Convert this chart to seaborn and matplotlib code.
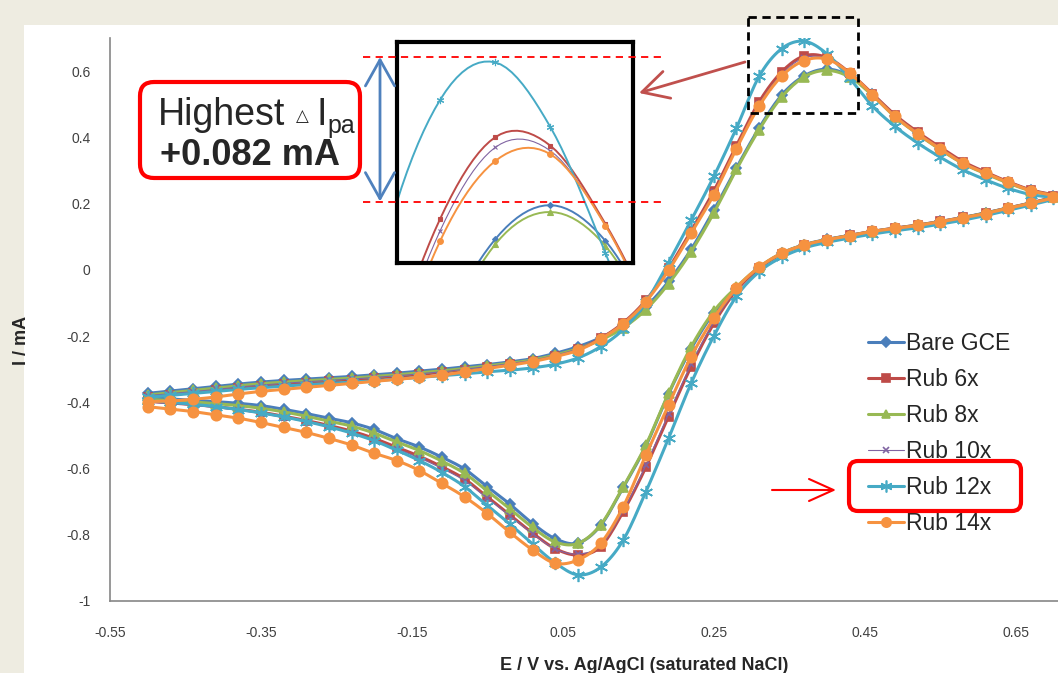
import numpy as np
import matplotlib
matplotlib.use("Agg")
import matplotlib.pyplot as plt
import seaborn as sns
from matplotlib.lines import Line2D
from matplotlib.patches import Rectangle, FancyBboxPatch, FancyArrowPatch

sns.set_style("white")
plt.rcParams['font.family'] = ['Liberation Sans', 'DejaVu Sans']

# potential steps (V): forward scan, then reverse scan
e_fwd = [-0.50, -0.47, -0.44, -0.41, -0.38, -0.35, -0.32, -0.29, -0.26, -0.23,
         -0.20, -0.17, -0.14, -0.11, -0.08, -0.05, -0.02, 0.01, 0.04, 0.07,
         0.10, 0.13, 0.16, 0.19, 0.22, 0.25, 0.28, 0.31, 0.34, 0.37,
         0.40, 0.43, 0.46, 0.49, 0.52, 0.55, 0.58, 0.61, 0.64, 0.67, 0.70]
e_rev = [0.67, 0.64, 0.61, 0.58, 0.55, 0.52, 0.49, 0.46, 0.43, 0.40,
         0.37, 0.34, 0.31, 0.28, 0.25, 0.22, 0.19, 0.16, 0.13, 0.10,
         0.07, 0.04, 0.01, -0.02, -0.05, -0.08, -0.11, -0.14, -0.17, -0.20,
         -0.23, -0.26, -0.29, -0.32, -0.35, -0.38, -0.41, -0.44, -0.47, -0.50]

# current (mA)
bare_fwd = [-0.373, -0.366, -0.359, -0.352, -0.345, -0.339, -0.334, -0.330, -0.326, -0.322,
            -0.317, -0.312, -0.306, -0.300, -0.293, -0.286, -0.278, -0.268, -0.252, -0.232,
            -0.205, -0.168, -0.112, -0.035, 0.062, 0.180, 0.308, 0.428, 0.528, 0.586,
            0.606, 0.585, 0.530, 0.465, 0.412, 0.365, 0.323, 0.292, 0.264, 0.240, 0.222]
bare_rev = [0.202, 0.187, 0.172, 0.158, 0.146, 0.135, 0.126, 0.116, 0.104, 0.092,
            0.076, 0.050, 0.006, -0.058, -0.130, -0.238, -0.375, -0.532, -0.657, -0.772,
            -0.825, -0.812, -0.766, -0.708, -0.655, -0.602, -0.566, -0.535, -0.510, -0.482,
            -0.462, -0.448, -0.434, -0.421, -0.410, -0.403, -0.398, -0.394, -0.390, -0.386]

rub6_fwd = [-0.383, -0.377, -0.371, -0.364, -0.357, -0.351, -0.346, -0.341, -0.336, -0.332,
            -0.327, -0.322, -0.316, -0.309, -0.301, -0.293, -0.284, -0.274, -0.259, -0.240,
            -0.207, -0.160, -0.092, 0.004, 0.118, 0.238, 0.375, 0.507, 0.598, 0.646,
            0.641, 0.595, 0.532, 0.468, 0.416, 0.370, 0.327, 0.295, 0.266, 0.241, 0.223]
rub6_rev = [0.202, 0.187, 0.171, 0.158, 0.146, 0.135, 0.126, 0.116, 0.104, 0.091,
            0.075, 0.048, 0.004, -0.062, -0.162, -0.292, -0.443, -0.596, -0.730, -0.836,
            -0.861, -0.842, -0.795, -0.740, -0.686, -0.632, -0.595, -0.563, -0.536, -0.509,
            -0.487, -0.470, -0.455, -0.442, -0.430, -0.421, -0.413, -0.407, -0.402, -0.397]

rub8_fwd = [-0.378, -0.371, -0.364, -0.357, -0.350, -0.344, -0.339, -0.335, -0.331, -0.327,
            -0.322, -0.317, -0.311, -0.305, -0.298, -0.290, -0.282, -0.272, -0.257, -0.238,
            -0.212, -0.175, -0.120, -0.042, 0.055, 0.172, 0.303, 0.423, 0.522, 0.583,
            0.602, 0.582, 0.527, 0.462, 0.410, 0.363, 0.321, 0.290, 0.262, 0.238, 0.221]
rub8_rev = [0.201, 0.186, 0.171, 0.157, 0.145, 0.134, 0.125, 0.115, 0.103, 0.091,
            0.075, 0.050, 0.008, -0.052, -0.125, -0.232, -0.373, -0.529, -0.655, -0.770,
            -0.826, -0.822, -0.778, -0.722, -0.668, -0.615, -0.578, -0.546, -0.520, -0.493,
            -0.472, -0.457, -0.442, -0.429, -0.418, -0.410, -0.404, -0.399, -0.395, -0.391]

rub10_fwd = [-0.380, -0.374, -0.368, -0.361, -0.354, -0.348, -0.343, -0.338, -0.334, -0.330,
             -0.325, -0.320, -0.314, -0.308, -0.300, -0.292, -0.283, -0.273, -0.258, -0.238,
             -0.206, -0.160, -0.093, 0.002, 0.115, 0.234, 0.371, 0.500, 0.591, 0.640,
             0.638, 0.594, 0.531, 0.467, 0.414, 0.368, 0.325, 0.294, 0.265, 0.240, 0.222]
rub10_rev = [0.201, 0.186, 0.171, 0.157, 0.145, 0.134, 0.125, 0.115, 0.103, 0.090,
             0.074, 0.048, 0.005, -0.060, -0.158, -0.285, -0.435, -0.590, -0.727, -0.832,
             -0.858, -0.843, -0.797, -0.743, -0.690, -0.637, -0.600, -0.568, -0.541, -0.514,
             -0.492, -0.474, -0.459, -0.446, -0.434, -0.424, -0.416, -0.409, -0.404, -0.399]

rub12_fwd = [-0.385, -0.379, -0.373, -0.367, -0.361, -0.356, -0.351, -0.347, -0.343, -0.339,
             -0.335, -0.330, -0.325, -0.320, -0.314, -0.308, -0.303, -0.296, -0.285, -0.266,
             -0.232, -0.180, -0.098, 0.022, 0.150, 0.282, 0.428, 0.584, 0.668, 0.690,
             0.652, 0.578, 0.495, 0.433, 0.383, 0.340, 0.302, 0.272, 0.246, 0.227, 0.216]
rub12_rev = [0.196, 0.180, 0.164, 0.150, 0.138, 0.127, 0.118, 0.108, 0.096, 0.083,
             0.066, 0.038, -0.006, -0.080, -0.200, -0.342, -0.509, -0.670, -0.816, -0.898,
             -0.921, -0.885, -0.828, -0.768, -0.712, -0.655, -0.612, -0.576, -0.545, -0.516,
             -0.493, -0.474, -0.458, -0.444, -0.432, -0.422, -0.413, -0.406, -0.400, -0.395]

rub14_fwd = [-0.398, -0.396, -0.391, -0.384, -0.375, -0.367, -0.361, -0.355, -0.349, -0.343,
             -0.337, -0.331, -0.325, -0.318, -0.308, -0.298, -0.288, -0.277, -0.262, -0.243,
             -0.209, -0.163, -0.096, -0.002, 0.111, 0.227, 0.366, 0.494, 0.585, 0.632,
             0.636, 0.594, 0.529, 0.463, 0.411, 0.365, 0.322, 0.292, 0.264, 0.239, 0.221]
rub14_rev = [0.201, 0.186, 0.170, 0.157, 0.145, 0.134, 0.125, 0.116, 0.103, 0.091,
             0.075, 0.050, 0.008, -0.055, -0.146, -0.262, -0.408, -0.559, -0.715, -0.826,
             -0.876, -0.886, -0.846, -0.793, -0.736, -0.686, -0.645, -0.606, -0.576, -0.554,
             -0.529, -0.509, -0.491, -0.476, -0.461, -0.448, -0.438, -0.428, -0.421, -0.413]

labels = ['Bare GCE', 'Rub 6x', 'Rub 8x', 'Rub 10x', 'Rub 12x', 'Rub 14x']
fwd_data = [bare_fwd, rub6_fwd, rub8_fwd, rub10_fwd, rub12_fwd, rub14_fwd]
rev_data = [bare_rev, rub6_rev, rub8_rev, rub10_rev, rub12_rev, rub14_rev]
colors = ['#4A7EBB', '#BE4B48', '#98B954', '#8064A2', '#46AAC5', '#F69240']
markers = ['D', 's', '^', 'x', (6, 2, 0), 'o']
msizes = [5.5, 6, 7, 5, 9.5, 7.5]
lwidths = [2.2, 2.2, 2.2, 0.8, 2.2, 2.2]

xticks = [-0.55, -0.35, -0.15, 0.05, 0.25, 0.45, 0.65]
yticks = [-1, -0.8, -0.6, -0.4, -0.2, 0, 0.2, 0.4, 0.6]
ytick_labels = ['-1', '-0.8', '-0.6', '-0.4', '-0.2', '0', '0.2', '0.4', '0.6']


def smooth(x, y, n=10):
    # excel-like smoothed line through the points (catmull-rom)
    pts = np.column_stack([x, y])
    p = np.vstack([pts[0], pts, pts[-1]])
    t = np.linspace(0, 1, n, endpoint=False)[:, None]
    out = []
    for i in range(1, len(p) - 2):
        p0, p1, p2, p3 = p[i - 1], p[i], p[i + 1], p[i + 2]
        out.append(0.5 * (2 * p1 + (-p0 + p2) * t + (2 * p0 - 5 * p1 + 4 * p2 - p3) * t ** 2
                          + (-p0 + 3 * p1 - 3 * p2 + p3) * t ** 3))
    out.append(pts[-1:])
    s = np.vstack(out)
    return s[:, 0], s[:, 1]


W, H = 1058, 673
fig = plt.figure(figsize=(W / 100, H / 100), dpi=100, facecolor='#EEECE1')
fig.patches.append(Rectangle((24 / W, 0), 1 - 24 / W, 1 - 25 / H, transform=fig.transFigure,
                             facecolor='white', edgecolor='none', zorder=-5))

ax = fig.add_axes([110 / W, 72 / H, 948 / W, 563 / H])
ins = fig.add_axes([397 / W, 1 - 263 / H, 236 / W, 221 / H])

for i in range(6):
    E = np.array(e_fwd + e_rev)
    I = np.array(fwd_data[i] + rev_data[i])
    sx, sy = smooth(E, I)
    sns.lineplot(x=sx, y=sy, sort=False, estimator=None, color=colors[i], lw=lwidths[i], ax=ax)
    ax.plot(E, I, ls='none', marker=markers[i], ms=msizes[i], color=colors[i],
            mec=colors[i], mew=1.2)
    sns.lineplot(x=sx, y=sy, sort=False, estimator=None, color=colors[i],
                 lw=min(lwidths[i], 1.4), ax=ins)
    ins.plot(E, I, ls='none', marker=markers[i], ms=msizes[i] * 0.55, color=colors[i],
             mec=colors[i], mew=0.8)

ax.set_xlim(-0.55, 0.706)
ax.set_ylim(-1, 0.7)
ax.set_xticks(xticks)
ax.set_xticklabels([f'{v:.2f}' for v in xticks])
ax.set_yticks(yticks)
ax.set_yticklabels(ytick_labels)
ax.tick_params(axis='both', length=0, labelsize=10, colors='#404040')
ax.tick_params(axis='x', pad=18)
ax.tick_params(axis='y', pad=14)
for side in ['top', 'right']:
    ax.spines[side].set_visible(False)
for side in ['left', 'bottom']:
    ax.spines[side].set_color('#868686')
    ax.spines[side].set_linewidth(1.2)
ax.set_xlabel('')
ax.set_ylabel('')

ins.set_xlim(0.3165, 0.445)
ins.set_ylim(0.572, 0.702)
ins.set_xticks([])
ins.set_yticks([])
ins.set_xlabel('')
ins.set_ylabel('')
for s in ins.spines.values():
    s.set_color('black')
    s.set_linewidth(3)

handles = [Line2D([], [], color=colors[i], lw=lwidths[i], marker=markers[i],
                  ms=msizes[i] * 0.9, mec=colors[i], mew=1.2) for i in range(6)]
ax.legend(handles, labels, loc='upper left', bbox_to_anchor=(868 / W, 1 - 332 / H),
          bbox_transform=fig.transFigure, frameon=False, fontsize=16.5,
          handlelength=1.55, handletextpad=0.12, labelspacing=0.57,
          borderpad=0, borderaxespad=0)

# overlay in pixel coordinates for annotations
ov = fig.add_axes([0, 0, 1, 1], zorder=10)
ov.set_xlim(0, W)
ov.set_ylim(H, 0)
ov.axis('off')

ov.add_patch(Rectangle((748, 17), 110, 96, fill=False, ec='black', lw=2, ls=(0, (3, 2))))
ov.plot([363, 665], [57, 57], ls=(0, (4, 3)), color='red', lw=1.3)
ov.plot([363, 665], [201.5, 201.5], ls=(0, (4, 3)), color='red', lw=1.3)
ov.add_patch(FancyArrowPatch((380, 57), (380, 201.5),
                             arrowstyle='<->,head_length=7.5,head_width=4.2',
                             color='#4F81BD', lw=2, mutation_scale=2.5, shrinkA=0, shrinkB=0))
ov.add_patch(FancyArrowPatch((745, 62), (639, 93), arrowstyle='->,head_length=7.5,head_width=4',
                             color='#C0504D', lw=2, mutation_scale=2.5, shrinkA=0, shrinkB=0))
ov.add_patch(FancyBboxPatch((140, 82), 220, 96, boxstyle='round,pad=0,rounding_size=14',
                            fill=False, ec='red', lw=3))
ov.add_patch(FancyBboxPatch((849, 461), 172, 50, boxstyle='round,pad=0,rounding_size=9',
                            fill=False, ec='red', lw=3))
ov.add_patch(FancyArrowPatch((772, 490), (836, 490), arrowstyle='->,head_length=8,head_width=3.6',
                             color='red', lw=1.5, mutation_scale=2.2, shrinkA=0, shrinkB=0))

ov.text(158, 125, 'Highest', fontsize=27, va='baseline', ha='left')
ov.text(296, 121, '\u25b3', fontsize=12, va='baseline', ha='left', family=['DejaVu Sans'])
ov.text(316, 125, 'I', fontsize=27, va='baseline', ha='left')
ov.text(327, 133, 'pa', fontsize=18, va='baseline', ha='left')
ov.text(160, 165, '+0.082 mA', fontsize=26, fontweight='bold', va='baseline', ha='left')

ov.text(22, 340, 'I / mA', fontsize=13, fontweight='bold', rotation=90, ha='center', va='center')
ov.text(644, 666, 'E / V vs. Ag/AgCl (saturated NaCl)', fontsize=13, fontweight='bold',
        ha='center', va='center')

fig.savefig('out.png', dpi=100, facecolor=fig.get_facecolor())
